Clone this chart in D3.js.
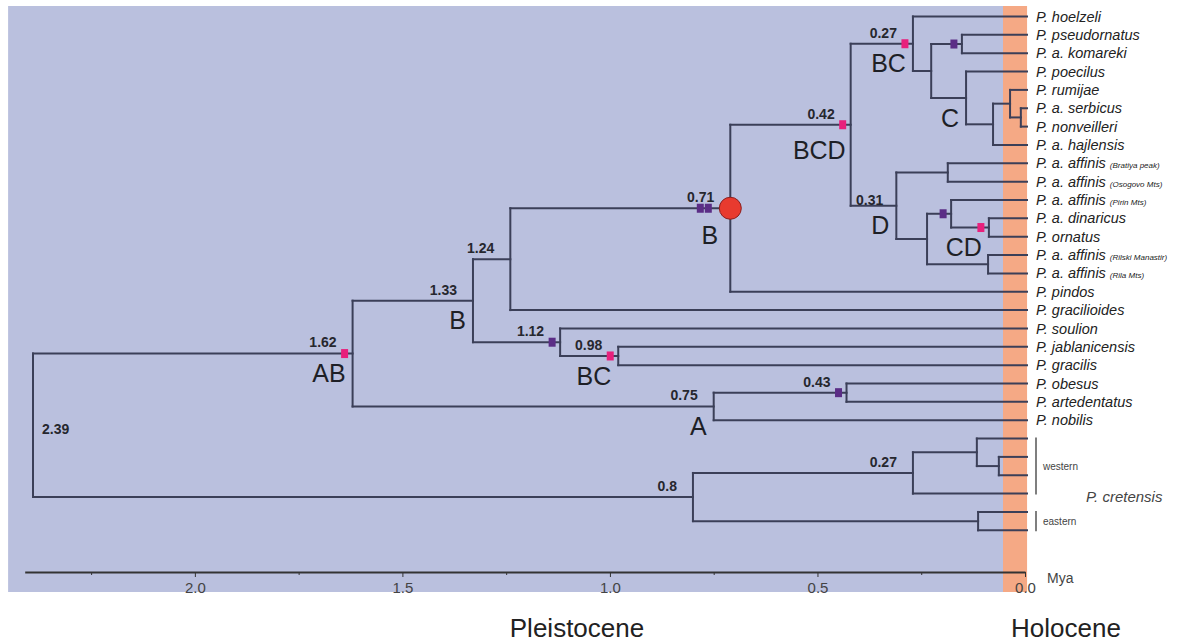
<!DOCTYPE html>
<html>
<head>
<meta charset="utf-8">
<script src="https://cdn.jsdelivr.net/npm/d3@7/dist/d3.min.js"></script>
<style>
  body { margin: 0; background: #fff; }
  svg { display: block; font-family: Arial, 'Liberation Sans', sans-serif; }
</style>
</head>
<body>
<svg id="tree" width="1184" height="644"></svg>
<script>
// tips, top to bottom
var tipNames = [
  'P. hoelzeli', 'P. pseudornatus', 'P. a. komareki', 'P. poecilus', 'P. rumijae',
  'P. a. serbicus', 'P. nonveilleri', 'P. a. hajlensis', 'P. a. affinis', 'P. a. affinis',
  'P. a. affinis', 'P. a. dinaricus', 'P. ornatus', 'P. a. affinis', 'P. a. affinis',
  'P. pindos', 'P. gracilioides', 'P. soulion', 'P. jablanicensis', 'P. gracilis',
  'P. obesus', 'P. artedentatus', 'P. nobilis', '', '', '', '', '', ''
];
var tipNotes = [
  '', '', '', '', '', '', '', '', '(Bratiya peak)', '(Osogovo Mts)',
  '(Pirin Mts)', '', '', '(Rilski Manastir)', '(Rila Mts)',
  '', '', '', '', '', '', '', '', '', '', '', '', '', ''
];
var tipParents = [
  'n027', 'nZ', 'nZ', 'nW', 'nU', 'nT', 'nT', 'nV', 'nS', 'nS',
  'nQ', 'nO', 'nO', 'nP', 'nP', 'n071', 'n124', 'n112', 'n098', 'n098',
  'n043', 'n043', 'n075', 'nM', 'nL', 'nL', 'n027b', 'nK', 'nK'
];

// internal nodes, ages in Mya
var nodeIds     = ['root', 'AB', 'n133', 'n124', 'n071', 'n042', 'n027', 'nY', 'nZ', 'nW',
                   'nV', 'nU', 'nT', 'nD', 'nS', 'nR', 'nQ', 'nO', 'nP', 'n112',
                   'n098', 'n075', 'n043', 'n080', 'n027b', 'nM', 'nL', 'nK'];
var nodeParents = [null, 'root', 'AB', 'n133', 'n124', 'n071', 'n042', 'n027', 'nY', 'nY',
                   'nW', 'nV', 'nU', 'n042', 'nD', 'nD', 'nR', 'nQ', 'nR', 'n133',
                   'n112', 'AB', 'n075', 'root', 'n080', 'n027b', 'nM', 'n080'];
var nodeAges    = [2.39, 1.62, 1.33, 1.24, 0.71, 0.42, 0.27, 0.226, 0.152, 0.142,
                   0.077, 0.036, 0.01, 0.31, 0.186, 0.236, 0.178, 0.087, 0.089, 1.12,
                   0.98, 0.75, 0.43, 0.8, 0.27, 0.116, 0.063, 0.113];

var ageLabelNodes = ['root', 'AB', 'n133', 'n124', 'n112', 'n098', 'n071', 'n075', 'n043',
                     'n042', 'n027', 'nD', 'n080', 'n027b'];
var cladeNodes   = ['AB', 'n133', 'n098', 'n071', 'n075', 'n042', 'n027', 'nW', 'nD', 'nO'];
var cladeLetters = ['AB', 'B', 'BC', 'B', 'A', 'BCD', 'BC', 'C', 'D', 'CD'];
var pinkMarkNodes   = ['AB', 'n098', 'n042', 'n027', 'nO'];
var purpleMarkNodes = ['n112', 'n043', 'nZ', 'nQ', 'n071', 'n071'];
var circleNodes = ['n071'];

var axisTicks = [2.0, 1.5, 1.0, 0.5, 0.0];
var minorTicks = [2.25, 1.75, 1.25, 0.75, 0.25];
var epochNames = ['Pleistocene', 'Holocene'];
var epochFrom = [2.45, 0.053];
var epochTo = [0.053, -0.005];
var epochColors = ['#bac0de', '#f5a985'];

var groupNames = ['western', 'eastern'];
var groupFirstTip = [23, 27];
var groupLastTip = [26, 28];
var speciesGroupLabel = 'P. cretensis';

// ---- layout
var lineColor = '#3b3f58';
var svg = d3.select('#tree');

var x = d3.scaleLinear().domain([2.39, 0]).range([33, 1025]);
var yTip = d3.scaleLinear().domain([0, 28]).range([16.5, 530.3]);

var rows = nodeIds.map(function(id, i) {
  return {id: id, parent: nodeParents[i], age: nodeAges[i], tip: null};
});
tipParents.forEach(function(p, i) {
  rows.push({id: 't' + i, parent: p, age: 0, tip: i});
});

var root = d3.stratify().id(d => d.id).parentId(d => d.parent)(rows);
root.eachAfter(function(n) {
  n.px = x(n.data.age);
  if (n.data.tip !== null) {
    n.py = yTip(n.data.tip);
  } else {
    var ys = n.children.map(c => c.py);
    n.py = (d3.min(ys) + d3.max(ys)) / 2;
  }
});
var byId = {};
root.each(n => byId[n.id] = n);

// background epochs
svg.selectAll('rect.epoch')
  .data(epochNames)
  .enter().append('rect')
  .attr('class', 'epoch')
  .attr('x', (d, i) => x(epochFrom[i]))
  .attr('width', (d, i) => x(epochTo[i]) - x(epochFrom[i]))
  .attr('y', 6)
  .attr('height', 586)
  .attr('fill', (d, i) => epochColors[i]);

// branches
var g = svg.append('g');
g.selectAll('path.h')
  .data(root.descendants().filter(n => n.parent))
  .enter().append('path')
  .attr('class', 'h')
  .attr('d', n => 'M' + n.parent.px + ',' + n.py + 'H' + (n.data.tip !== null ? n.px + 2 : n.px))
  .attr('stroke', lineColor).attr('stroke-width', 2).attr('fill', 'none')
  .attr('stroke-linecap', 'square');

g.selectAll('path.v')
  .data(root.descendants().filter(n => n.children))
  .enter().append('path')
  .attr('class', 'v')
  .attr('d', function(n) {
    var ys = n.children.map(c => c.py);
    return 'M' + n.px + ',' + d3.min(ys) + 'V' + d3.max(ys);
  })
  .attr('stroke', lineColor).attr('stroke-width', 2).attr('fill', 'none')
  .attr('stroke-linecap', 'square');

// markers on branches
function addMarks(list, color, cls) {
  var count = {};
  list.forEach(function(id) {
    var n = byId[id];
    var k = count[id] || 0;
    count[id] = k + 1;
    var base = circleNodes.indexOf(id) >= 0 ? 22 : 8;
    g.append('rect')
      .attr('class', cls)
      .attr('x', n.px - base - k * 8 - 3.5)
      .attr('y', n.py - 4.5)
      .attr('width', 7)
      .attr('height', 9)
      .attr('fill', color);
  });
}
addMarks(pinkMarkNodes, '#e8207c', 'pink');
addMarks(purpleMarkNodes, '#5b2d86', 'purple');

g.selectAll('circle.event')
  .data(circleNodes.map(id => byId[id]))
  .enter().append('circle')
  .attr('class', 'event')
  .attr('cx', n => n.px)
  .attr('cy', n => n.py)
  .attr('r', 11)
  .attr('fill', '#e83a2f')
  .attr('stroke', '#8c2020')
  .attr('stroke-width', 1);

// node ages
g.selectAll('text.age')
  .data(ageLabelNodes.map(id => byId[id]))
  .enter().append('text')
  .attr('class', 'age')
  .attr('x', function(n) {
    if (n.id === 'root') return n.px + 9;
    if (n.id === 'nD') return n.px - 13;
    return n.px - 16;
  })
  .attr('y', function(n) {
    if (n.id === 'root') return n.py + 4;
    if (n.id === 'nD') return n.py - 6;
    return n.py - 11;
  })
  .attr('dy', '0.35em')
  .attr('text-anchor', n => n.id === 'root' ? 'start' : 'end')
  .attr('font-size', '14px')
  .attr('font-weight', 'bold')
  .attr('fill', '#26272e')
  .text(n => String(n.data.age));

// clade letters
var cladeNudge = {n071: [-12, 27], n042: [-5, 26]};
g.selectAll('text.clade')
  .data(cladeNodes.map(id => byId[id]))
  .enter().append('text')
  .attr('class', 'clade')
  .attr('x', n => n.px + (cladeNudge[n.id] ? cladeNudge[n.id][0] : -7))
  .attr('y', n => n.py + (cladeNudge[n.id] ? cladeNudge[n.id][1] : 20))
  .attr('dy', '0.35em')
  .attr('text-anchor', 'end')
  .attr('font-size', '25px')
  .attr('fill', '#1e1f26')
  .text((n, i) => cladeLetters[i]);

// tip labels
var labels = svg.append('g')
  .selectAll('text')
  .data(tipNames.map((t, i) => ({name: t, note: tipNotes[i], y: yTip(i)})).filter(d => d.name))
  .enter().append('text')
  .attr('x', 1036)
  .attr('y', d => d.y)
  .attr('dy', '0.35em')
  .attr('font-style', 'italic')
  .attr('font-size', '14.5px')
  .attr('fill', '#222');
labels.append('tspan').text(d => d.name);
labels.filter(d => d.note).append('tspan')
  .attr('font-size', '8px')
  .attr('dx', 4)
  .text(d => d.note);

// cretensis groups
var grp = svg.append('g');
groupNames.forEach(function(name, i) {
  var y0 = yTip(groupFirstTip[i]), y1 = yTip(groupLastTip[i]);
  grp.append('line')
    .attr('x1', 1036).attr('x2', 1036)
    .attr('y1', y0 - 1).attr('y2', y1 + 1)
    .attr('stroke', '#555').attr('stroke-width', 1.5);
  grp.append('text')
    .attr('x', 1043)
    .attr('y', (y0 + y1) / 2)
    .attr('dy', '0.35em')
    .attr('font-size', '10px')
    .attr('fill', '#444')
    .text(name);
});
grp.append('text')
  .attr('x', 1086)
  .attr('y', byId['n080'].py)
  .attr('dy', '0.35em')
  .attr('font-size', '15px')
  .attr('font-style', 'italic')
  .attr('fill', '#444')
  .text(speciesGroupLabel);

// time axis
var axisX = d3.scaleLinear().domain([2.41, 0]).range([x(2.41), x(0)]);
var axisG = svg.append('g').attr('transform', 'translate(0,572)');
axisG.call(d3.axisBottom(axisX).tickValues(axisTicks).tickFormat(d3.format('.1f'))
  .tickSize(5).tickSizeOuter(0).tickPadding(5));
axisG.select('.domain').attr('stroke', '#333').attr('stroke-width', 2);
axisG.selectAll('.tick line').attr('stroke', '#333');
axisG.selectAll('.tick text').attr('fill', '#444').attr('font-size', '15px')
  .attr('font-family', 'Arial, Liberation Sans, sans-serif');

var minorG = svg.append('g').attr('transform', 'translate(0,572)');
minorG.call(d3.axisBottom(axisX).tickValues(minorTicks).tickFormat('').tickSize(3).tickSizeOuter(0));
minorG.select('.domain').remove();
minorG.selectAll('.tick line').attr('stroke', '#333');

svg.append('text')
  .attr('x', 1047).attr('y', 583)
  .attr('font-size', '14px').attr('fill', '#444')
  .text('Mya');

// epoch names
var epochLabelX = [577, 1066];
svg.selectAll('text.epochname')
  .data(epochNames)
  .enter().append('text')
  .attr('class', 'epochname')
  .attr('x', (d, i) => epochLabelX[i])
  .attr('y', 637)
  .attr('text-anchor', 'middle')
  .attr('font-size', '26px')
  .attr('fill', '#222')
  .text(d => d);
</script>
</body>
</html>
